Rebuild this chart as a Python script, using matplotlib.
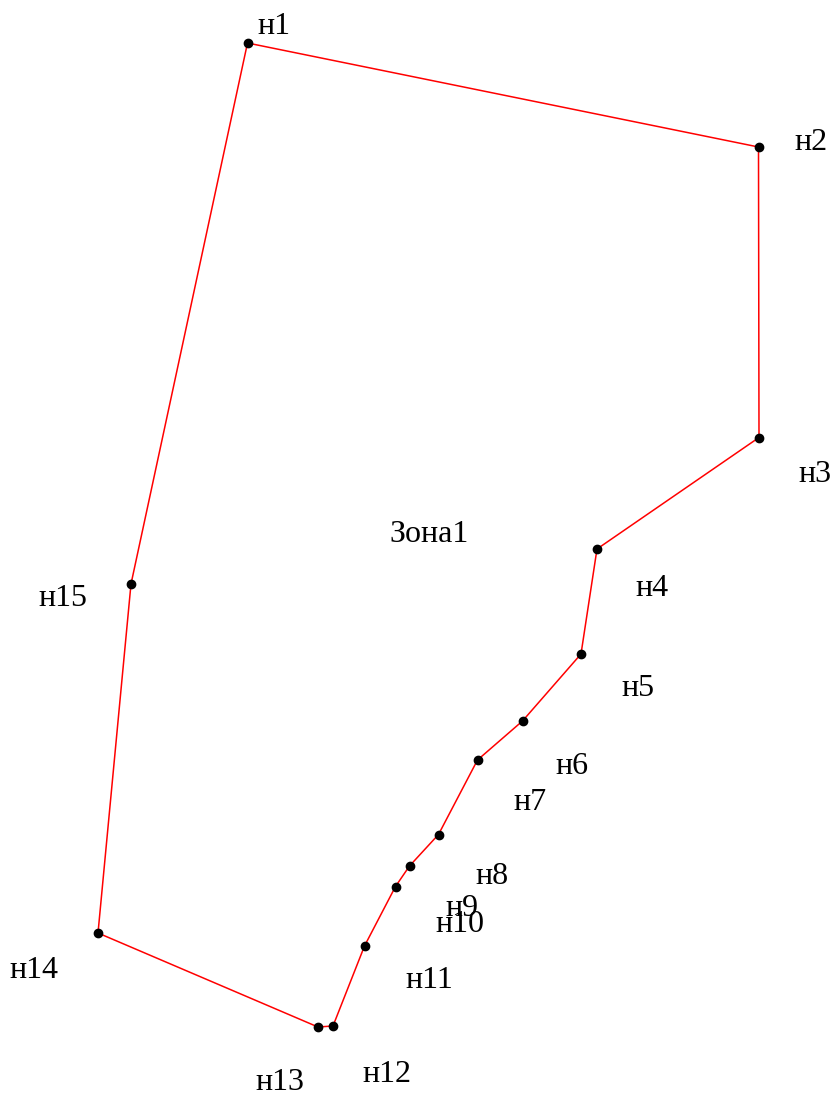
import matplotlib
matplotlib.use('Agg')
import matplotlib.pyplot as plt

plt.rcParams['font.family'] = ['Liberation Serif', 'DejaVu Serif']

# boundary points of the zone, in image coordinates
point_x = [247.5, 758.5, 759, 597, 581, 522.5, 477.5, 438.5, 409.5, 395.5, 364.5, 333, 318, 98, 131]
point_y = [43, 147, 437.5, 549, 654, 721, 760, 834.5, 866, 886.5, 946, 1026, 1027, 933, 584]

labels = ['н1', 'н2', 'н3', 'н4', 'н5', 'н6', 'н7', 'н8', 'н9', 'н10', 'н11', 'н12', 'н13', 'н14', 'н15']
label_x = [274, 811.5, 815.5, 652.5, 638.5, 572.5, 530, 492.5, 462.5, 459.5, 429.5, 387, 280, 34, 63]
label_y = [26, 143, 475, 589, 689, 767, 802, 876, 909, 925, 981, 1075, 1083, 971, 598]

zone_name = 'Зона1'
zone_x = 429
zone_y = 535

fig = plt.figure(figsize=(8.36, 10.99), dpi=100)
ax = fig.add_axes([0, 0, 1, 1])
ax.set_xlim(0, 836)
ax.set_ylim(1099, 0)
ax.axis('off')

ax.plot(point_x + point_x[:1], point_y + point_y[:1], color='#ff0000', lw=1.1, zorder=1)
ax.scatter(point_x, point_y, s=36, color='black', zorder=2)

for name, x, y in zip(labels, label_x, label_y):
    ax.text(x, y, name, fontsize=23, ha='center', va='center')
ax.text(zone_x, zone_y, zone_name, fontsize=23, ha='center', va='center')

fig.savefig('out.png', dpi=100)
